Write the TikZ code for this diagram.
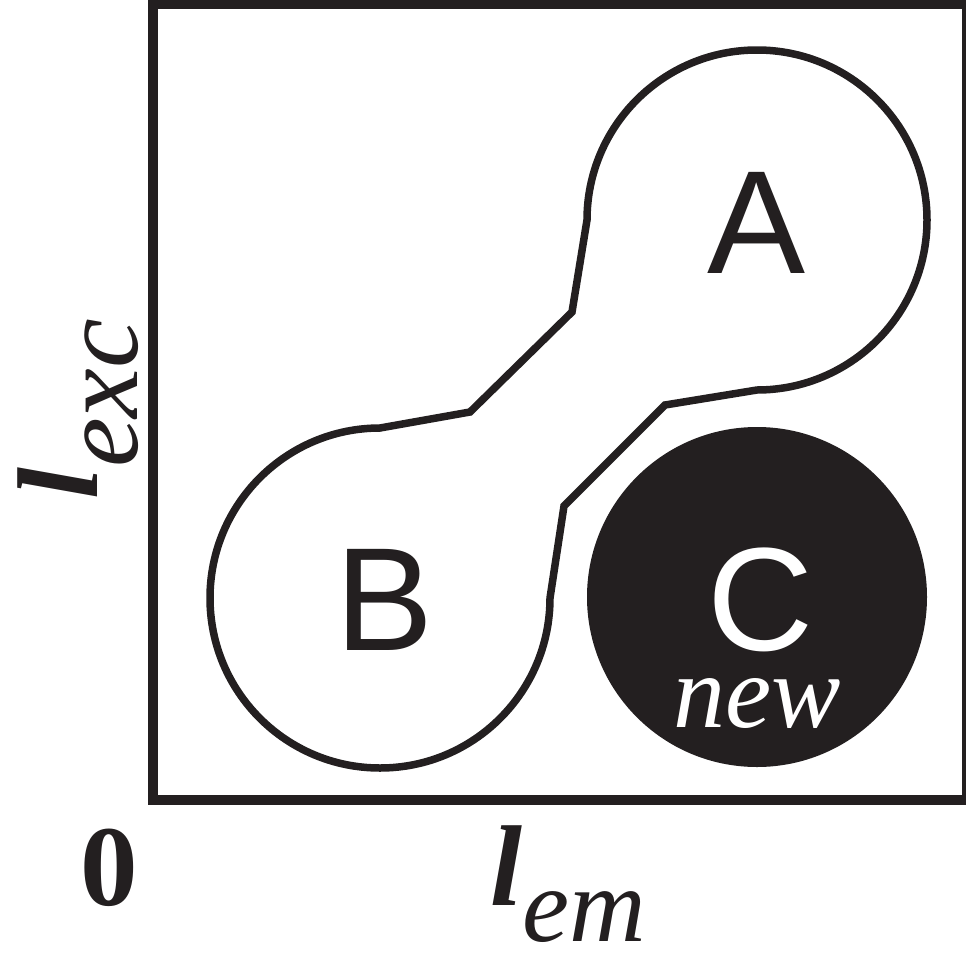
\documentclass[tikz,border=0pt]{standalone}
\usepackage{fontspec}
\setmainfont{Liberation Serif}
\newfontfamily\arialfont{Liberation Sans}
\definecolor{ink}{HTML}{231F20}
\begin{document}
\begin{tikzpicture}[x=1pt,y=1pt,
  letter/.style={font=\arialfont\fontsize{147}{147}\selectfont, inner sep=0, anchor=base, text=ink},
  outline/.style={draw=ink, line width=7.5pt, line join=miter},
  axislab/.style={inner sep=0, text=ink}
]
\useasboundingbox (0,0) rectangle (966,-953);
% frame
\draw[draw=ink, line width=10pt] (153,-4) rectangle (967,-799.5);
% C disc
\fill[ink] (757,-597) circle[radius=170];
% A-B region
\draw[outline, fill=white] (380,-428) -- (470,-412) -- (572,-312) -- (587,-220)
  arc[start angle=180, end angle=-90, radius=170] -- (665,-405) -- (564,-506) -- (550,-598)
  arc[start angle=0, end angle=-270, radius=170] -- cycle;
% letters
\node[letter] (A) at (757,-273) {A};
\node[letter] (B) at (385,-650) {B};
\node[letter, text=white] (C) at (761,-650) {C};
\node[font=\itshape\fontsize{104}{104}\selectfont, text=white, inner sep=0, anchor=base] (new) at (757,-727) {new};
% axis labels
\node[axislab, font=\bfseries\fontsize{115}{115}\selectfont, anchor=base] (zero) at (109,-905) {0};
\node[axislab, anchor=base west] (xlab) at (490,-905)
  {\fontsize{115}{115}\selectfont\bfseries\itshape l\raisebox{-36pt}{\mdseries\fontsize{106}{106}\selectfont em}};
\node[axislab, rotate=90, anchor=base west] (ylab) at (97,-500)
  {\fontsize{115}{115}\selectfont\bfseries\itshape l\raisebox{-40pt}{\mdseries\fontsize{112}{112}\selectfont exc}};
\end{tikzpicture}
\end{document}
